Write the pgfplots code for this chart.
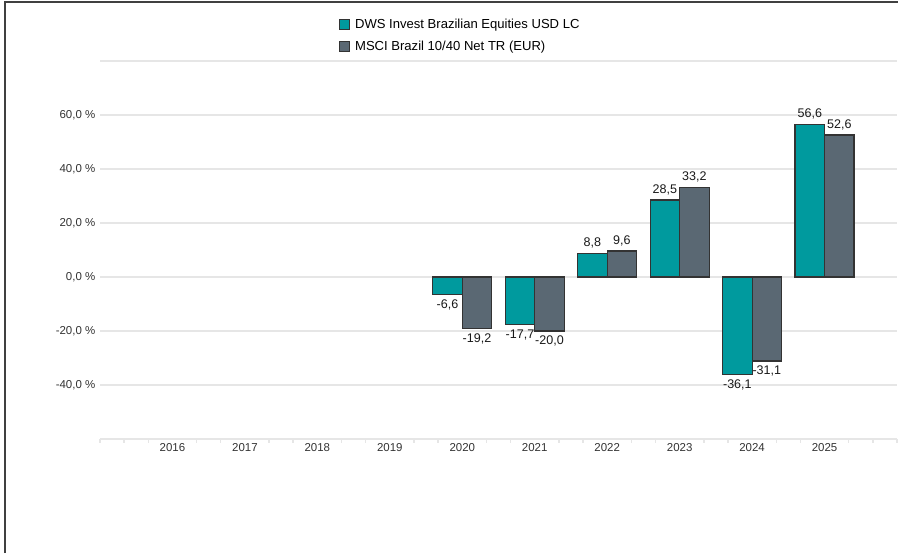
\documentclass[border=0pt]{standalone}
\usepackage{pgfplots}
\pgfplotsset{compat=1.18}
\usepackage{fontspec}
\setmainfont{Liberation Sans}
\definecolor{teal1}{HTML}{009A9E}
\definecolor{slate1}{HTML}{5A6873}
\definecolor{gridc}{HTML}{E6E6E6}
\definecolor{txt}{HTML}{333333}
\begin{document}
\begin{tikzpicture}
\useasboundingbox (0,0) rectangle (673.5pt,414.75pt);
\draw[line width=1.5pt, color=black!75] (3.75pt,0) -- (3.75pt,413.25pt) -- (673.5pt,413.25pt);
\begin{axis}[
  at={(75pt,85.5pt)}, anchor=south west,
  scale only axis, width=597.75pt, height=283.5pt,
  xmin=-1, xmax=10, ymin=-60, ymax=80,
  ybar=0pt, bar width=22.1pt,
  axis x line*=bottom, axis y line*=left,
  y axis line style={draw=none},
  x axis line style={draw=gridc, line width=2pt, -},
  xtick={0,1,2,3,4,5,6,7,8,9},
  xticklabels={2016,2017,2018,2019,2020,2021,2022,2023,2024,2025},
  ytick={-40,-20,0,20,40,60,80},
  yticklabels={-40{,}0 \%,-20{,}0 \%,0{,}0 \%,20{,}0 \%,40{,}0 \%,60{,}0 \%,{}},
  ymajorgrids, grid style={draw=gridc, line width=1.1pt},
  major tick length=0pt,
  minor xtick={-1,-0.6667,-0.3333,0.3333,0.6667,1.3333,1.6667,2.3333,2.6667,3.3333,3.6667,4.3333,4.6667,5.3333,5.6667,6.3333,6.6667,7.3333,7.6667,8.3333,8.6667,9.3333,9.6667,10},
  minor tick length=3pt, tick align=outside,
  minor tick style={draw=gridc, line width=1.1pt},
  major tick style={draw=none},
  tick label style={font=\fontsize{8.6}{10}\selectfont, color=txt},
  /pgf/number format/assume math mode=true,
  nodes near coords={\pgfmathprintnumber[fixed,fixed zerofill,precision=1,use comma]{\pgfplotspointmeta}},
  every node near coord/.append style={font=\fontsize{9.4}{11}\selectfont, color=black!90},
  legend style={at={(0.294,1.127)}, anchor=north west, draw=none, fill=none,
    font=\fontsize{9.8}{11.5}\selectfont, row sep=4pt, legend cell align=left},
  legend image code/.code={\draw[#1] (0pt,-3.75pt) rectangle (7.5pt,3.75pt); \path (9.5pt,0pt);},
]
\addplot[fill=teal1, draw=black!80, line width=0.9pt] coordinates {(4,-6.6) (5,-17.7) (6,8.8) (7,28.5) (8,-36.1) (9,56.6)};
\addlegendentry{DWS Invest Brazilian Equities USD LC}
\addplot[fill=slate1, draw=black!80, line width=0.9pt] coordinates {(4,-19.2) (5,-20.0) (6,9.6) (7,33.2) (8,-31.1) (9,52.6)};
\addlegendentry{MSCI Brazil 10/40 Net TR (EUR)}
\end{axis}
\end{tikzpicture}
\end{document}
